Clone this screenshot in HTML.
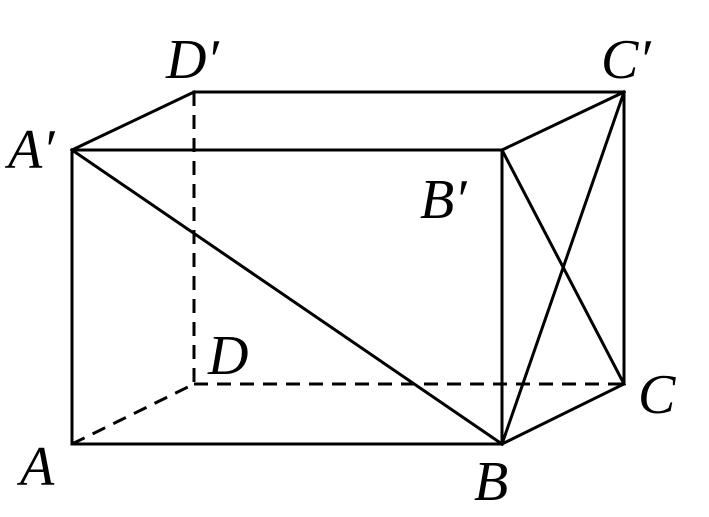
<!DOCTYPE html>
<html><head><meta charset="utf-8"><style>
html,body{margin:0;padding:0;background:#fff;}
svg{display:block;}
text{font-family:"Liberation Serif",serif;font-style:italic;font-size:56px;fill:#000;}
</style></head><body>
<svg width="709" height="517" viewBox="0 0 709 517" xmlns="http://www.w3.org/2000/svg">
<g stroke="#000" stroke-width="3" fill="none" stroke-linecap="square">
<line x1="72" y1="150" x2="502" y2="150"/>
<line x1="72" y1="150" x2="72" y2="444"/>
<line x1="72" y1="444" x2="502" y2="444"/>
<line x1="502" y1="150" x2="502" y2="444"/>
<line x1="72" y1="150" x2="194" y2="92"/>
<line x1="194" y1="92" x2="624" y2="92"/>
<line x1="502" y1="150" x2="624" y2="92"/>
<line x1="624" y1="92" x2="624" y2="384"/>
<line x1="502" y1="444" x2="624" y2="384"/>
<line x1="72" y1="150" x2="502" y2="444"/>
<line x1="502" y1="150" x2="624" y2="384"/>
<line x1="502" y1="444" x2="624" y2="92"/>
</g>
<g stroke="#000" stroke-width="3" fill="none" stroke-dasharray="14,9">
<line x1="194" y1="92" x2="194" y2="384"/>
<line x1="194" y1="384" x2="624" y2="384"/>
<line x1="72" y1="444" x2="194" y2="384"/>
</g>
<text x="8" y="168">A′</text>
<text x="166" y="78">D′</text>
<text x="601" y="78">C′</text>
<text x="420" y="218">B′</text>
<text x="208" y="374">D</text>
<text x="638" y="413">C</text>
<text x="20" y="485">A</text>
<text x="474" y="500">B</text>
</svg>
</body></html>
